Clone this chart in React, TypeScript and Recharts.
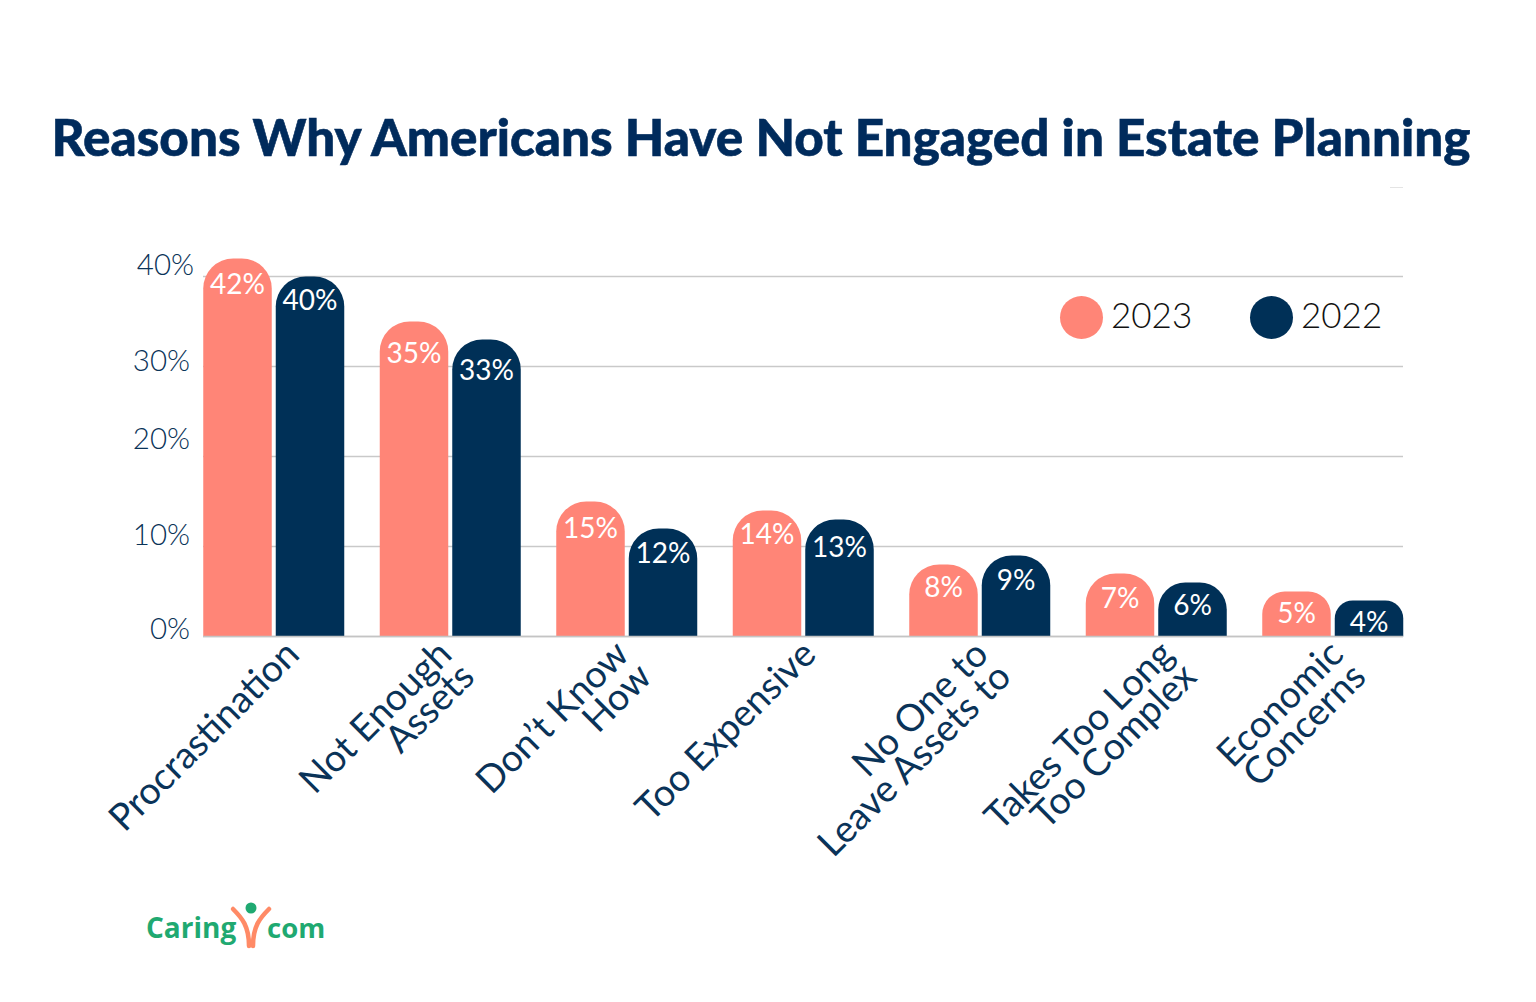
import React from "react";
import { BarChart, Bar, XAxis, YAxis, CartesianGrid, LabelList, Legend } from "recharts";

const categories = [
  "Procrastination",
  "Not Enough|Assets",
  "Don’t Know|How",
  "Too Expensive",
  "No One to|Leave Assets to",
  "Takes Too Long|Too Complex",
  "Economic|Concerns",
];
const values2023 = [42, 35, 15, 14, 8, 7, 5];
const values2022 = [40, 33, 12, 13, 9, 6, 4];
const yTicks = [0, 10, 20, 30, 40];

const CORAL = "#FF8577";
const NAVY = "#003057";
const TEXT = "#0A3358";
const FONT = "Lato, sans-serif";

// the labels in the source sit a bit off their grid lines, so nudge them by hand
const yTickNudge: Record<number, [number, number]> = {
  0: [-1, -9],
  10: [-1, -13],
  20: [-1, -19],
  30: [-1, -7],
  40: [3, -13.5],
};
const xTickNudge = [18, -6, -5.5, 5, 1, 10, 3];
// distance from the bar top to the middle of its value label
const labelDrop2023 = [24, 30, 25, 22, 21, 23, 20];
const labelDrop2022 = [22.5, 29, 23, 26, 23, 21, 20];

const data = categories.map((name, i) => ({
  name,
  y2023: values2023[i],
  y2022: values2022[i],
}));

function YTick({ x, y, payload }: any) {
  const [dx, dy] = yTickNudge[payload.value] || [0, 0];
  return (
    <text
      x={x + dx}
      y={y + dy}
      textAnchor="end"
      dominantBaseline="central"
      fontFamily={FONT}
      fontSize={29.5}
      fontWeight={300}
      fill={TEXT}
    >
      {payload.value}%
    </text>
  );
}

function XTick({ x, y, payload, index }: any) {
  const lines = String(payload.value).split("|");
  const nudge = xTickNudge[index] || 0;
  return (
    <g transform={`translate(${x + nudge},${y + 2}) rotate(-45)`}>
      <text textAnchor="end" fontFamily={FONT} fontSize={37.5} fontWeight={400} fill={TEXT}>
        {lines.map((line, i) => (
          <tspan key={i} x={0} y={i * 32 + 14}>
            {line}
          </tspan>
        ))}
      </text>
    </g>
  );
}

function valueLabel(drops: number[]) {
  return ({ x, y, width, value, index }: any) => (
    <text
      x={x + width / 2}
      y={y + drops[index]}
      textAnchor="middle"
      dominantBaseline="central"
      fill="#fff"
      fontFamily={FONT}
      fontSize={28}
    >
      {value}%
    </text>
  );
}

function LegendRow({ payload }: any) {
  return (
    <div style={{ display: "flex", fontFamily: FONT, fontSize: 35, fontWeight: 300, color: "#111" }}>
      {(payload || []).map((item: any) => (
        <div key={item.value} style={{ display: "flex", alignItems: "center", width: 190 }}>
          <span
            style={{
              width: 43,
              height: 43,
              borderRadius: "50%",
              background: item.color,
              marginRight: 8,
              display: "inline-block",
            }}
          />
          <span style={{ position: "relative", top: -4 }}>{item.value}</span>
        </div>
      ))}
    </div>
  );
}

function Logo() {
  const green = "#1FA971";
  const orange = "#FF8A66";
  return (
    <div style={{ position: "absolute", left: 146, top: 900, width: 180, height: 50 }}>
      <svg width={180} height={50} style={{ position: "absolute", left: 0, top: 0 }}>
        <circle cx={105} cy={8} r={5.5} fill={green} />
        <path d="M87 9 C96 18 103 26 103 46" stroke={orange} strokeWidth={4.5} fill="none" strokeLinecap="round" />
        <path d="M123 9 C114 18 107 26 107 46" stroke={orange} strokeWidth={4.5} fill="none" strokeLinecap="round" />
        <text x={0} y={38} fontFamily="'Open Sans', sans-serif" fontWeight={700} fontSize={28} fill={green}>
          Caring
        </text>
        <text x={121} y={38} fontFamily="'Open Sans', sans-serif" fontWeight={700} fontSize={27.5} fill={green}>
          com
        </text>
      </svg>
    </div>
  );
}

export default function App() {
  return (
    <div style={{ position: "absolute", left: 0, top: 0, width: 1536, height: 1002, background: "#fff", overflow: "hidden" }}>
      <div
        style={{
          position: "absolute",
          left: 0,
          width: 1522,
          top: 105,
          textAlign: "center",
          fontFamily: FONT,
          fontWeight: 900,
          fontSize: 51.2,
          lineHeight: "62px",
          color: "#002B5C",
          whiteSpace: "nowrap",
          WebkitTextStroke: "0.6px #002B5C",
        }}
      >
        Reasons Why Americans Have Not Engaged in Estate Planning
      </div>
      <div style={{ position: "absolute", left: 1390, top: 187, width: 13, height: 1, background: "#e4e4e4" }} />

      <BarChart
        width={1536}
        height={1002}
        data={data}
        margin={{ top: 186.5, right: 133, bottom: 0, left: 0 }}
        barSize={68.5}
        barGap={4}
        style={{ position: "absolute", left: 0, top: 0 }}
      >
        <CartesianGrid vertical={false} stroke="#c9c9c9" strokeWidth={1.5} horizontalValues={yTicks} />
        <XAxis
          dataKey="name"
          interval={0}
          height={365.5}
          padding={{ left: -17.75, right: -17.75 }}
          tick={<XTick />}
          tickLine={false}
          axisLine={{ stroke: "#c4c4c4", strokeWidth: 1.5 }}
        />
        <YAxis
          width={203}
          domain={[0, 50]}
          ticks={yTicks}
          tick={<YTick />}
          tickLine={false}
          axisLine={false}
          tickMargin={6}
        />
        <Legend
          content={<LegendRow />}
          layout="horizontal"
          verticalAlign="middle"
          align="center"
          itemSorter={null}
          wrapperStyle={{ left: 1060, top: 296, width: 400 }}
        />
        <Bar dataKey="y2023" name="2023" fill={CORAL} radius={[30, 30, 0, 0]} isAnimationActive={false}>
          <LabelList dataKey="y2023" content={valueLabel(labelDrop2023)} />
        </Bar>
        <Bar dataKey="y2022" name="2022" fill={NAVY} radius={[30, 30, 0, 0]} isAnimationActive={false}>
          <LabelList dataKey="y2022" content={valueLabel(labelDrop2022)} />
        </Bar>
      </BarChart>
      <Logo />
    </div>
  );
}
